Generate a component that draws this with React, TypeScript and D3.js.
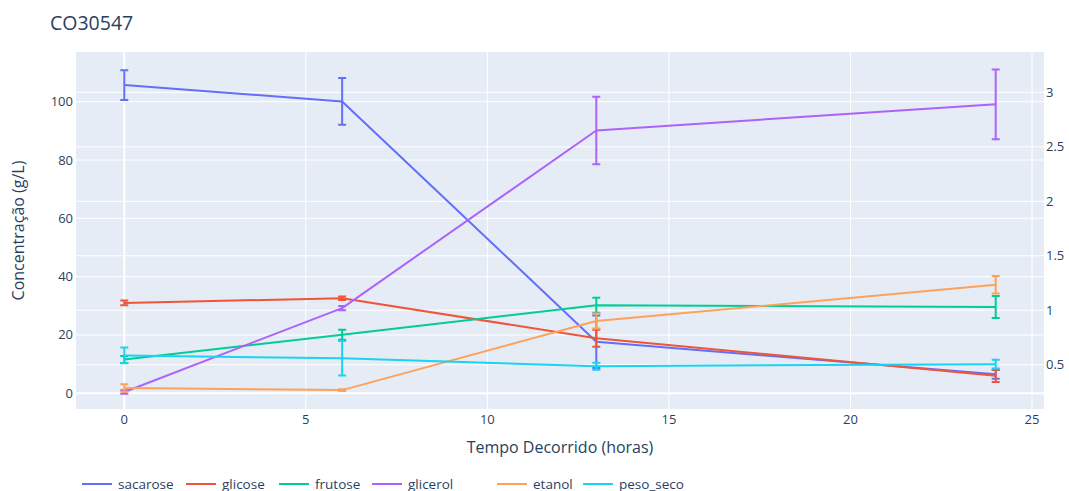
import React, { useEffect, useRef } from 'react';
import * as d3 from 'd3';

// tempo (horas)
const horas = [0, 6, 13, 24];

// valores (g/L) e desvios
const sacarose = [105.7, 100.1, 17.7, 6.5];
const errSacarose = [5.1, 8.0, 9.0, 1.5];
const glicose = [31.0, 32.6, 18.9, 6.0];
const errGlicose = [0.8, 0.6, 2.9, 2.1];
const frutose = [11.6, 20.1, 30.2, 29.6];
const errFrutose = [1.2, 1.7, 2.6, 3.8];
const glicerol = [0.25, 1.02, 2.65, 2.89];
const errGlicerol = [0.015, 0.02, 0.31, 0.32];
const etanol = [1.8, 1.1, 24.8, 37.2];
const errEtanol = [1.3, 0.3, 2.6, 3.0];
const pesoSeco = [13.0, 12.0, 9.3, 10.0];
const errPesoSeco = [2.7, 5.9, 1.2, 1.5];

const xTicks = [0, 5, 10, 15, 20, 25];
const yTicks = [0, 20, 40, 60, 80, 100];
const y2Ticks = [0.5, 1, 1.5, 2, 2.5, 3];

const series = [
  { name: 'sacarose', values: sacarose, err: errSacarose, color: '#636efa', axis: 'y' },
  { name: 'glicose', values: glicose, err: errGlicose, color: '#EF553B', axis: 'y' },
  { name: 'frutose', values: frutose, err: errFrutose, color: '#00cc96', axis: 'y' },
  { name: 'glicerol', values: glicerol, err: errGlicerol, color: '#ab63fa', axis: 'y2' },
  { name: 'etanol', values: etanol, err: errEtanol, color: '#FFA15A', axis: 'y' },
  { name: 'peso_seco', values: pesoSeco, err: errPesoSeco, color: '#19d3f3', axis: 'y' },
];

const W = 1069;
const H = 491;
const plot = { left: 76, right: 1044, top: 52, bottom: 409 };
const legendX = [82, 186, 279, 372, 497, 583];
const font = '"Open Sans", verdana, arial, sans-serif';
const textColor = '#2a3f5f';

export default function App() {
  const ref = useRef<SVGSVGElement>(null);

  useEffect(() => {
    const svg = d3.select(ref.current);
    svg.selectAll('*').remove();

    const x = d3.scaleLinear().domain([-1.33, 25.33]).range([plot.left, plot.right]);
    const y = d3.scaleLinear().domain([-5.38, 117.04]).range([plot.bottom, plot.top]);
    const y2 = d3.scaleLinear().domain([0.094, 3.37]).range([plot.bottom, plot.top]);

    svg.append('rect')
      .attr('x', plot.left).attr('y', plot.top)
      .attr('width', plot.right - plot.left).attr('height', plot.bottom - plot.top)
      .attr('fill', '#E5ECF6');

    const grid = svg.append('g');
    xTicks.forEach(t => {
      grid.append('line')
        .attr('x1', x(t)).attr('x2', x(t)).attr('y1', plot.top).attr('y2', plot.bottom)
        .attr('stroke', '#fff').attr('stroke-width', t === 0 ? 2 : 1);
    });
    yTicks.forEach(t => {
      grid.append('line')
        .attr('x1', plot.left).attr('x2', plot.right).attr('y1', y(t)).attr('y2', y(t))
        .attr('stroke', '#fff').attr('stroke-width', t === 0 ? 2 : 1);
    });
    y2Ticks.forEach(t => {
      grid.append('line')
        .attr('x1', plot.left).attr('x2', plot.right).attr('y1', y2(t)).attr('y2', y2(t))
        .attr('stroke', '#fff').attr('stroke-width', 1);
    });

    // eixos
    const labels = svg.append('g')
      .attr('font-family', font).attr('font-size', 13).attr('fill', textColor);
    xTicks.forEach(t => {
      labels.append('text').attr('x', x(t)).attr('y', 424)
        .attr('text-anchor', 'middle').text(t);
    });
    yTicks.forEach(t => {
      labels.append('text').attr('x', 73).attr('y', y(t) + 4.5)
        .attr('text-anchor', 'end').text(t);
    });
    y2Ticks.forEach(t => {
      labels.append('text').attr('x', 1046).attr('y', y2(t) + 4.5)
        .attr('text-anchor', 'start').text(d3.format('~g')(t));
    });

    svg.append('text')
      .attr('x', (plot.left + plot.right) / 2).attr('y', 453)
      .attr('text-anchor', 'middle')
      .attr('font-family', font).attr('font-size', 16).attr('fill', textColor)
      .text('Tempo Decorrido (horas)');

    svg.append('text')
      .attr('transform', `translate(24,${(plot.top + plot.bottom) / 2}) rotate(-90)`)
      .attr('text-anchor', 'middle')
      .attr('font-family', font).attr('font-size', 16).attr('fill', textColor)
      .text('Concentração (g/L)');

    svg.append('text')
      .attr('x', 50).attr('y', 30)
      .attr('font-family', font).attr('font-size', 19.5).attr('fill', textColor)
      .text('CO30547');

    // séries
    series.forEach(s => {
      const ys = s.axis === 'y2' ? y2 : y;
      const g = svg.append('g');
      const line = d3.line<number>()
        .x((d, i) => x(horas[i]))
        .y(d => ys(d));
      g.append('path')
        .attr('d', line(s.values))
        .attr('fill', 'none')
        .attr('stroke', s.color)
        .attr('stroke-width', 2)
        .attr('stroke-linejoin', 'round');

      s.values.forEach((v, i) => {
        const cx = x(horas[i]);
        const top = ys(v + s.err[i]);
        const bot = ys(v - s.err[i]);
        g.append('path')
          .attr('d', `M${cx - 4},${top}h8M${cx},${top}V${bot}M${cx - 4},${bot}h8`)
          .attr('fill', 'none')
          .attr('stroke', s.color)
          .attr('stroke-width', 2);
      });
    });

    // legenda
    const legend = svg.append('g').attr('font-family', font).attr('font-size', 13.5);
    series.forEach((s, i) => {
      const lx = legendX[i];
      legend.append('line')
        .attr('x1', lx).attr('x2', lx + 30).attr('y1', 484).attr('y2', 484)
        .attr('stroke', s.color).attr('stroke-width', 2);
      legend.append('text')
        .attr('x', lx + 36).attr('y', 488.5)
        .attr('fill', textColor)
        .text(s.name);
    });
  }, []);

  return (
    <svg
      ref={ref}
      width={W}
      height={H}
      style={{ position: 'absolute', left: 0, top: 0, background: '#fff' }}
    />
  );
}
